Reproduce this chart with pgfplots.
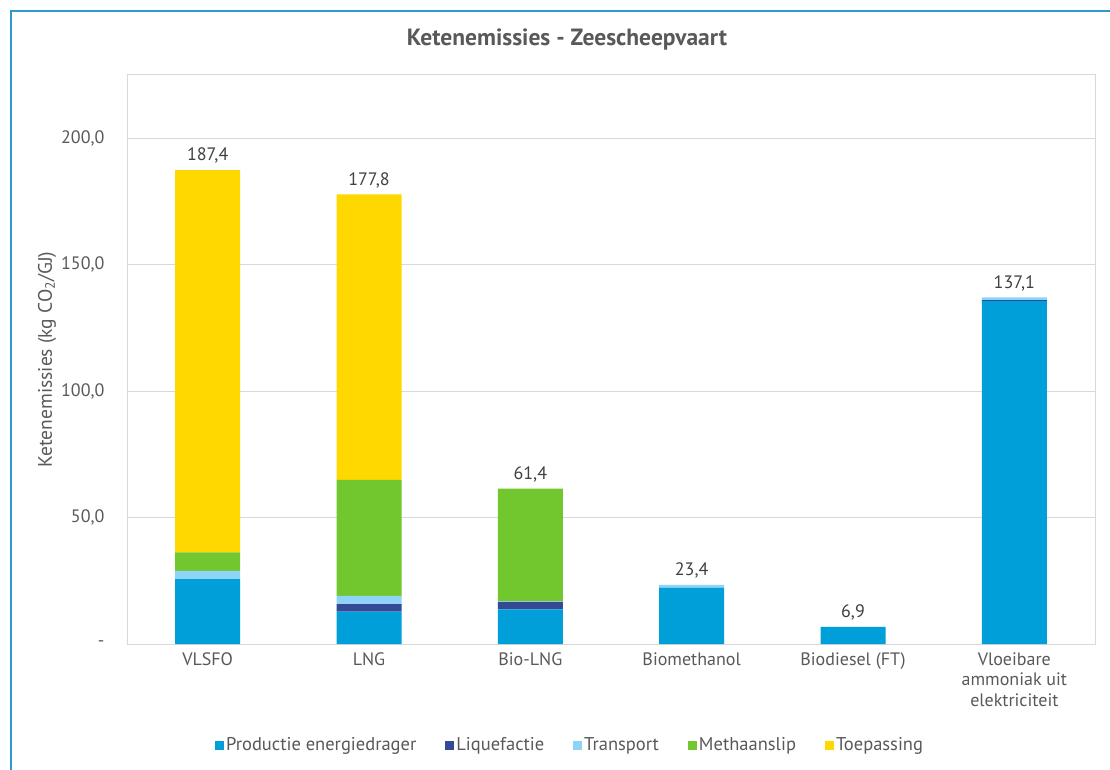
\documentclass[border=0pt]{standalone}
\usepackage{pgfplots}
\pgfplotsset{compat=1.18}
\usepackage{pgfplotstable}
\usepackage{fontspec}
\setmainfont{PT Sans}
\definecolor{cprod}{HTML}{009FDA}
\definecolor{cliq}{HTML}{344A94}
\definecolor{ctrans}{HTML}{8DD4F7}
\definecolor{cmeth}{HTML}{72C72F}
\definecolor{ctoep}{HTML}{FFD800}
\definecolor{txt}{HTML}{595959}
\definecolor{valc}{HTML}{404040}
\definecolor{gridc}{HTML}{D9D9D9}
\definecolor{framec}{HTML}{2E9BD0}

\pgfplotstableread{
x prod liq trans meth toep tot lab
0 25.7 0.0 3.2 7.3 151.2 187.4 {187,4}
1 12.8 3.0 3.2 45.9 112.9 177.8 {177,8}
2 13.7 3.0 0.2 44.5 0.0 61.4 {61,4}
3 22.3 0.0 1.1 0.0 0.0 23.4 {23,4}
4 6.7 0.0 0.2 0.0 0.0 6.9 {6,9}
5 135.6 0.4 1.1 0.0 0.0 137.1 {137,1}
}\data

\pgfplotsset{common/.style={
  at={(127pt,125pt)}, anchor=south west,
  scale only axis, width=968pt, height=569pt,
  xmin=-0.5, xmax=5.5, ymin=0, ymax=225}}

\begin{document}
\begin{tikzpicture}
\path[use as bounding box] (0pt,0pt) rectangle (1110pt,769pt);
\fill[white] (0pt,0pt) rectangle (1110pt,769pt);
\draw[framec, line width=1.2pt] (11pt,-10pt) -- (11pt,758pt) -- (1120pt,758pt);
\node[text=txt, font=\fontsize{23.5}{27}\selectfont\bfseries] at (567pt,729pt) {Ketenemissies - Zeescheepvaart};
\begin{axis}[
  common,
  ybar stacked, bar width=65pt,
  xtick={0,1,2,3,4,5},
  xticklabels={VLSFO, LNG, Bio-LNG, Biomethanol, Biodiesel (FT), {Vloeibare\\ammoniak uit\\elektriciteit}},
  xticklabel style={align=center, text=txt, font=\fontsize{18}{20.5}\selectfont, yshift=-5pt},
  ytick={0,50,100,150,200},
  yticklabels={-,{50,0},{100,0},{150,0},{200,0}},
  yticklabel style={text=txt, font=\fontsize{18}{21}\selectfont, xshift=-19pt},
  ymajorgrids, grid style={gridc, line width=1pt},
  axis line style={gridc, line width=1pt},
  major tick length=0pt, tick style={draw=none},
  ylabel={Ketenemissies (kg CO\textsubscript{2}/GJ)},
  ylabel style={at={(axis description cs:-0.0826,0.5)}, anchor=center, text=txt, font=\fontsize{19.5}{22}\selectfont},
  legend columns=5,
  legend style={at={(0.4577,-0.1775)}, anchor=center, draw=none, fill=none,
    font=\fontsize{18.5}{21}\selectfont, text=txt,
    /tikz/every even column/.append style={column sep=27pt}},
  legend image code/.code={\fill[#1] (0pt,-4.5pt) rectangle (9pt,4.5pt);},
  legend cell align=left,
]
\addplot[fill=cprod, draw=none] table[x=x, y=prod] {\data};
\addlegendentry{Productie energiedrager}
\addplot[fill=cliq, draw=none] table[x=x, y=liq] {\data};
\addlegendentry{Liquefactie}
\addplot[fill=ctrans, draw=none] table[x=x, y=trans] {\data};
\addlegendentry{Transport}
\addplot[fill=cmeth, draw=none] table[x=x, y=meth] {\data};
\addlegendentry{Methaanslip}
\addplot[fill=ctoep, draw=none] table[x=x, y=toep] {\data};
\addlegendentry{Toepassing}
\end{axis}
\begin{axis}[common, hide axis]
\addplot[only marks, mark=none, nodes near coords, point meta=explicit symbolic,
  nodes near coords style={text=valc, font=\fontsize{18}{21}\selectfont, anchor=south, yshift=3pt}]
  table[x=x, y=tot, meta=lab] {\data};
\end{axis}
\end{tikzpicture}
\end{document}
